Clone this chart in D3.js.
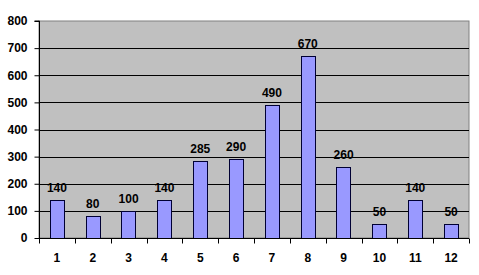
<!DOCTYPE html>
<html>
<head>
<meta charset="utf-8">
<script src="https://cdn.jsdelivr.net/npm/d3@7"></script>
<style>
  body { margin: 0; background: #fff; }
  svg { display: block; }
</style>
</head>
<body>
<div id="chart"></div>
<script>
// data
const months = ["1", "2", "3", "4", "5", "6", "7", "8", "9", "10", "11", "12"];
const values = [140, 80, 100, 140, 285, 290, 490, 670, 260, 50, 140, 50];
const yTicks = [0, 100, 200, 300, 400, 500, 600, 700, 800];

const width = 479;
const height = 275;
const margin = {top: 21, right: 10, bottom: 37, left: 39};
const font = "Liberation Sans, Arial, sans-serif";

const svg = d3.select("#chart")
  .append("svg")
  .attr("width", width)
  .attr("height", height);

const x = d3.scaleBand()
  .domain(months)
  .range([margin.left, width - margin.right])
  .paddingInner(0.6)
  .paddingOuter(0.3);

const y = d3.scaleLinear()
  .domain([0, 800])
  .range([height - margin.bottom, margin.top]);

// plot area
svg.append("rect")
  .attr("x", margin.left)
  .attr("y", margin.top)
  .attr("width", width - margin.left - margin.right)
  .attr("height", height - margin.top - margin.bottom)
  .attr("fill", "#c0c0c0")
  .attr("stroke", "#808080");

// gridlines
svg.append("g")
  .selectAll("line")
  .data(yTicks.slice(1, -1))
  .join("line")
  .attr("x1", margin.left)
  .attr("x2", width - margin.right)
  .attr("y1", d => Math.round(y(d)) + 0.5)
  .attr("y2", d => Math.round(y(d)) + 0.5)
  .attr("stroke", "#000");

// bars
svg.append("g")
  .selectAll("rect")
  .data(values)
  .join("rect")
  .attr("x", (d, i) => Math.round(x(months[i])) + 0.5)
  .attr("y", d => Math.round(y(d)) + 0.5)
  .attr("width", Math.round(x.bandwidth()))
  .attr("height", d => Math.round(y(0)) - Math.round(y(d)))
  .attr("fill", "#9999ff")
  .attr("stroke", "#000033")
  .attr("stroke-width", 1);

// value labels
svg.append("g")
  .selectAll("text")
  .data(values)
  .join("text")
  .attr("x", (d, i) => x(months[i]) + x.bandwidth() / 2)
  .attr("y", d => y(d) - 8)
  .attr("text-anchor", "middle")
  .attr("font-family", font)
  .attr("font-weight", "bold")
  .attr("font-size", "12px")
  .attr("fill", "#000")
  .text(d => d);

// y axis
const yAxis = svg.append("g")
  .attr("transform", `translate(${margin.left + 0.5},0)`)
  .call(d3.axisLeft(y).tickValues(yTicks).tickSize(5).tickPadding(7));
yAxis.select(".domain").attr("stroke", "#000").attr("d", `M-5,${y(800)}H0V${y(0)}`);
yAxis.selectAll("text")
  .attr("font-family", font)
  .attr("font-weight", "bold")
  .attr("font-size", "12px")
  .attr("fill", "#000");

// x axis, ticks at band boundaries
const xg = svg.append("g")
  .attr("transform", `translate(0,${Math.round(y(0)) + 0.5})`);
xg.append("line")
  .attr("x1", margin.left)
  .attr("x2", width - margin.right)
  .attr("stroke", "#000");
const bx = i => Math.round(margin.left + i * (width - margin.left - margin.right) / months.length) + 0.5;
xg.selectAll(".tick")
  .data(d3.range(months.length + 1))
  .join("line")
  .attr("x1", bx)
  .attr("x2", bx)
  .attr("y1", 0)
  .attr("y2", 5)
  .attr("stroke", "#000");
xg.selectAll("text")
  .data(months)
  .join("text")
  .attr("x", d => x(d) + x.bandwidth() / 2)
  .attr("y", 23)
  .attr("text-anchor", "middle")
  .attr("font-family", font)
  .attr("font-weight", "bold")
  .attr("font-size", "12px")
  .attr("fill", "#000")
  .text(d => d);
</script>
</body>
</html>
